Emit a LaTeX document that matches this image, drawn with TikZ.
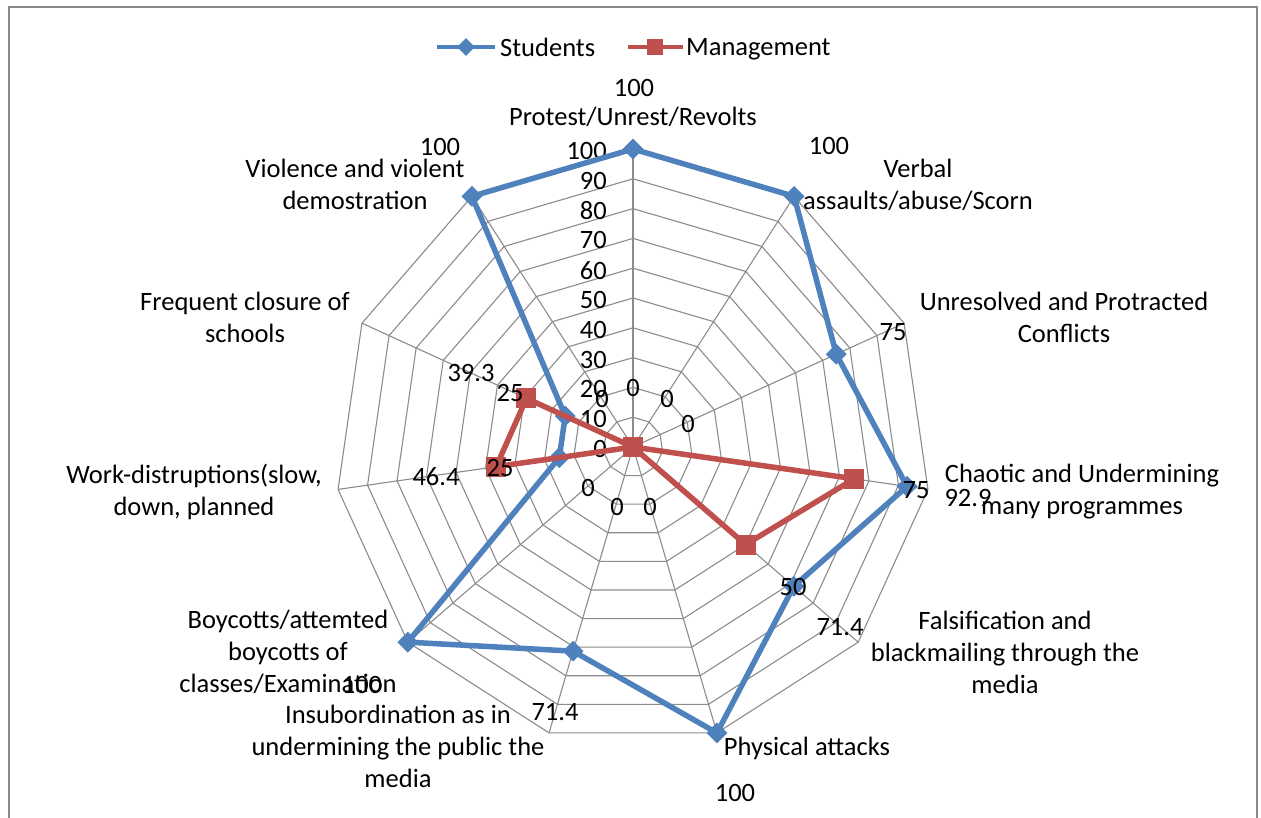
\documentclass[tikz,border=0pt]{standalone}
\usepackage{fontspec}
\setmainfont{Carlito}
\usetikzlibrary{shapes.geometric}
\definecolor{stud}{HTML}{4F81BD}
\definecolor{mgmt}{HTML}{C0504D}
\definecolor{gridc}{HTML}{8C8C8C}
\definecolor{framec}{HTML}{898989}
\begin{document}
\begin{tikzpicture}[x=1pt,y=-1pt,
  lbl/.style={inner sep=0pt, align=center, font=\fontsize{26.5}{32}\selectfont},
  val/.style={inner sep=0pt, font=\fontsize{26.5}{32}\selectfont},
  tick/.style={inner sep=0pt, anchor=east, font=\fontsize{26.5}{32}\selectfont},
  gridline/.style={draw=gridc, line width=1.1pt, line join=round},
  studline/.style={draw=stud, line width=5.5pt, line join=round},
  mgmtline/.style={draw=mgmt, line width=5.5pt, line join=round},
  studmark/.style={shape=diamond, fill=stud, inner sep=0pt, minimum width=21pt, minimum height=21pt},
  mgmtmark/.style={shape=rectangle, fill=mgmt, inner sep=0pt, minimum size=20pt},
]
\useasboundingbox (0,0) rectangle (1261,818);
\clip (0,0) rectangle (1261,818);
\fill[white] (0,0) rectangle (1261,818);
% chart frame (open at the bottom edge)
\draw[framec, line width=2.5pt] (9,818) -- (9,7) -- (1257,7) -- (1257,818);

% radar centre and the eleven spoke ends
\coordinate (ctr) at (633,447);
\foreach \k in {0,...,10}
  \coordinate (ax\k) at ({633+298*sin(\k*360/11)},{447-298*cos(\k*360/11)});

% concentric grid rings, one per 10 units
\foreach \j in {1,...,10}
  \draw[gridline] plot[samples at={0,...,11}, variable=\t]
    ({633+29.8*\j*sin(\t*360/11)},{447-29.8*\j*cos(\t*360/11)});
% spokes
\foreach \k in {0,...,10}
  \draw[gridline] (ctr) -- (ax\k);

% axis scale
\foreach \v in {0,10,...,100}
  \node[tick] (tk\v) at (607,{449-2.98*\v}) {\v};

% data points
\foreach \v [count=\k from 0] in {100,100,75,92.9,71.4,100,71.4,100,25,25,100}
  \coordinate (s\k) at ({633+2.98*\v*sin(\k*360/11)},{447-2.98*\v*cos(\k*360/11)});
\foreach \v [count=\k from 0] in {0,0,0,75,50,0,0,0,46.4,39.3,0}
  \coordinate (m\k) at ({633+2.98*\v*sin(\k*360/11)},{447-2.98*\v*cos(\k*360/11)});

% Students series
\draw[studline] (s0) -- (s1) -- (s2) -- (s3) -- (s4) -- (s5) -- (s6) -- (s7) -- (s8) -- (s9) -- (s10) -- cycle;
\foreach \k in {0,...,10}
  \node[studmark] (sd\k) at (s\k) {};

% Management series
\draw[mgmtline] (m0) -- (m1) -- (m2) -- (m3) -- (m4) -- (m5) -- (m6) -- (m7) -- (m8) -- (m9) -- (m10) -- cycle;
\foreach \k in {0,...,10}
  \node[mgmtmark] (mq\k) at (m\k) {};

% legend
\coordinate (lsa) at (437,47);
\coordinate (lsb) at (495,47);
\draw[stud, line width=4pt] (lsa) -- (lsb);
\node[studmark, minimum width=18pt, minimum height=18pt] (lsm) at (466,47) {};
\node[val, anchor=west] (lst) at (500,47) {Students};
\coordinate (lma) at (628,47);
\coordinate (lmb) at (683,47);
\draw[mgmt, line width=4pt] (lma) -- (lmb);
\node[mgmtmark, minimum size=16pt] (lmm) at (655,47) {};
\node[val, anchor=west] (lmt) at (686,49.5) {Management};

% category labels
\node[lbl] (c0) at (633,117) {Protest/Unrest/Revolts};
\node[lbl] (c1) at (918,185) {Verbal\\assaults/abuse/Scorn};
\node[lbl] (c2) at (1064,317) {Unresolved and Protracted\\Conflicts};
\node[lbl] (c3) at (1082,492) {Chaotic and Undermining\\many programmes};
\node[lbl] (c4) at (1005,652) {Falsification and\\blackmailing through the\\media};
\node[lbl] (c5) at (807,748) {Physical attacks};
\node[lbl] (c6) at (398,746) {Insubordination as in\\undermining the public the\\media};
\node[lbl] (c7) at (288,652) {Boycotts/attemted\\boycotts of\\classes/Examination};
\node[lbl] (c8) at (194,492) {Work-distruptions(slow,\\down, planned};
\node[lbl] (c9) at (245,317) {Frequent closure of\\schools};
\node[lbl] (c10) at (355,184) {Violence and violent\\demostration};

% Students values
\node[val] (sv0) at (634,88) {100};
\node[val] (sv1) at (829,146) {100};
\node[val] (sv2) at (893,332) {75};
\node[val] (sv3) at (968,498) {92.9};
\node[val] (sv4) at (840,627) {71.4};
\node[val] (sv5) at (735,793) {100};
\node[val] (sv6) at (555,712) {71.4};
\node[val] (sv7) at (362,685) {100};
\node[val] (sv8) at (436,477) {46.4};
\node[val] (sv9) at (471,373) {39.3};
\node[val] (sv10) at (440,147) {100};

% Management values
\node[val] (mv0) at (633,388) {0};
\node[val] (mv1) at (667,399) {0};
\node[val] (mv2) at (688,424) {0};
\node[val] (mv3) at (916,490) {75};
\node[val] (mv4) at (793,587) {50};
\node[val] (mv5) at (650,507) {0};
\node[val] (mv6) at (617,507) {0};
\node[val] (mv7) at (588,488) {0};
\node[val] (mv8) at (500,468) {25};
\node[val] (mv9) at (510,393) {25};
\node[val] (mv10) at (602,399) {0};
\end{tikzpicture}
\end{document}
